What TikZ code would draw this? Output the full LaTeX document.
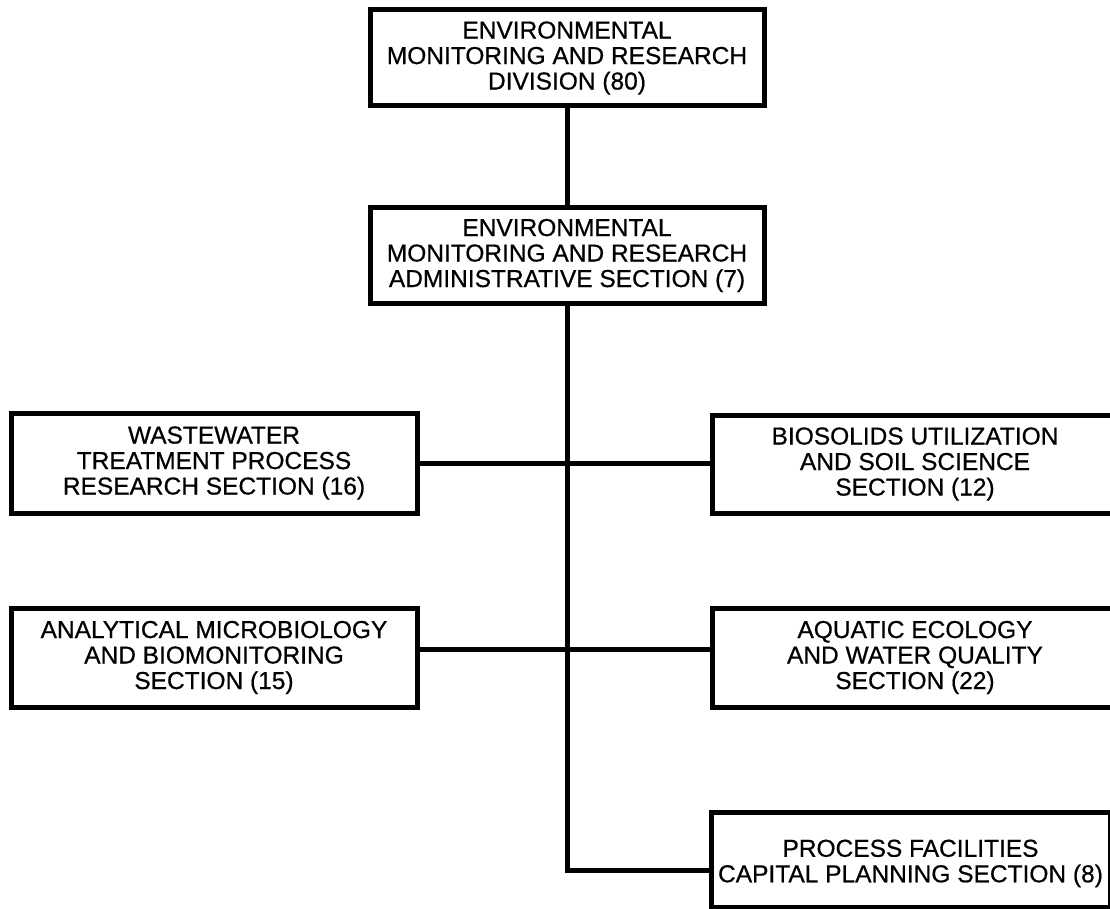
\documentclass[tikz,border=0pt]{standalone}
\usepackage{fontspec}
\setmainfont{Liberation Sans}[FakeBold=0.6]
\begin{document}
\begin{tikzpicture}[x=1pt,y=1pt,
  boxfont/.style={font=\fontsize{24.5}{25.5}\selectfont, text=black, align=center, inner sep=0pt},
  box/.style={draw=black, line width=5pt, rectangle, boxfont},
  conn/.style={draw=black, line width=5pt}]
\useasboundingbox (0,0) rectangle (1110,-909);
\clip (0,0) rectangle (1110,-909);
\fill[white] (0,0) rectangle (1110,-909);
\node[box, minimum width=394pt, minimum height=96pt] (top) at (567,-58)
  {ENVIRONMENTAL\\MONITORING AND RESEARCH\\DIVISION (80)};
\node[box, minimum width=394pt, minimum height=95pt] (admin) at (567,-255.5)
  {ENVIRONMENTAL\\MONITORING AND RESEARCH\\ADMINISTRATIVE SECTION (7)};
\node[box, minimum width=406pt, minimum height=100pt] (wwt) at (214,-463)
  {WASTEWATER\\TREATMENT PROCESS\\RESEARCH SECTION (16)};
\node[box, minimum width=406pt, minimum height=99pt] (amb) at (214,-657.5)
  {ANALYTICAL MICROBIOLOGY\\AND BIOMONITORING\\SECTION (15)};
\node[box, minimum width=406pt, minimum height=98pt] (bio) at (915,-464)
  {BIOSOLIDS UTILIZATION\\AND SOIL SCIENCE\\SECTION (12)};
\node[box, minimum width=406pt, minimum height=99pt] (aq) at (915,-657.5)
  {AQUATIC ECOLOGY\\AND WATER QUALITY\\SECTION (22)};
\node[box, minimum width=399pt, minimum height=95pt,
  label={[boxfont, yshift=-4pt]center:{PROCESS FACILITIES\\CAPITAL PLANNING SECTION (8)}}]
  (pf) at (910.5,-859.5) {};
\coordinate (turn) at (admin.south |- 0,-870);
\coordinate (r2) at ([yshift=8pt]amb.east);
\draw[conn] (top.south) -- (admin.north);
\draw[conn] (admin.south) -- (turn) -- (turn -| pf.west);
\draw[conn] (wwt.east) -- (wwt.east -| bio.west);
\draw[conn] (r2) -- (r2 -| aq.west);
\end{tikzpicture}
\end{document}
